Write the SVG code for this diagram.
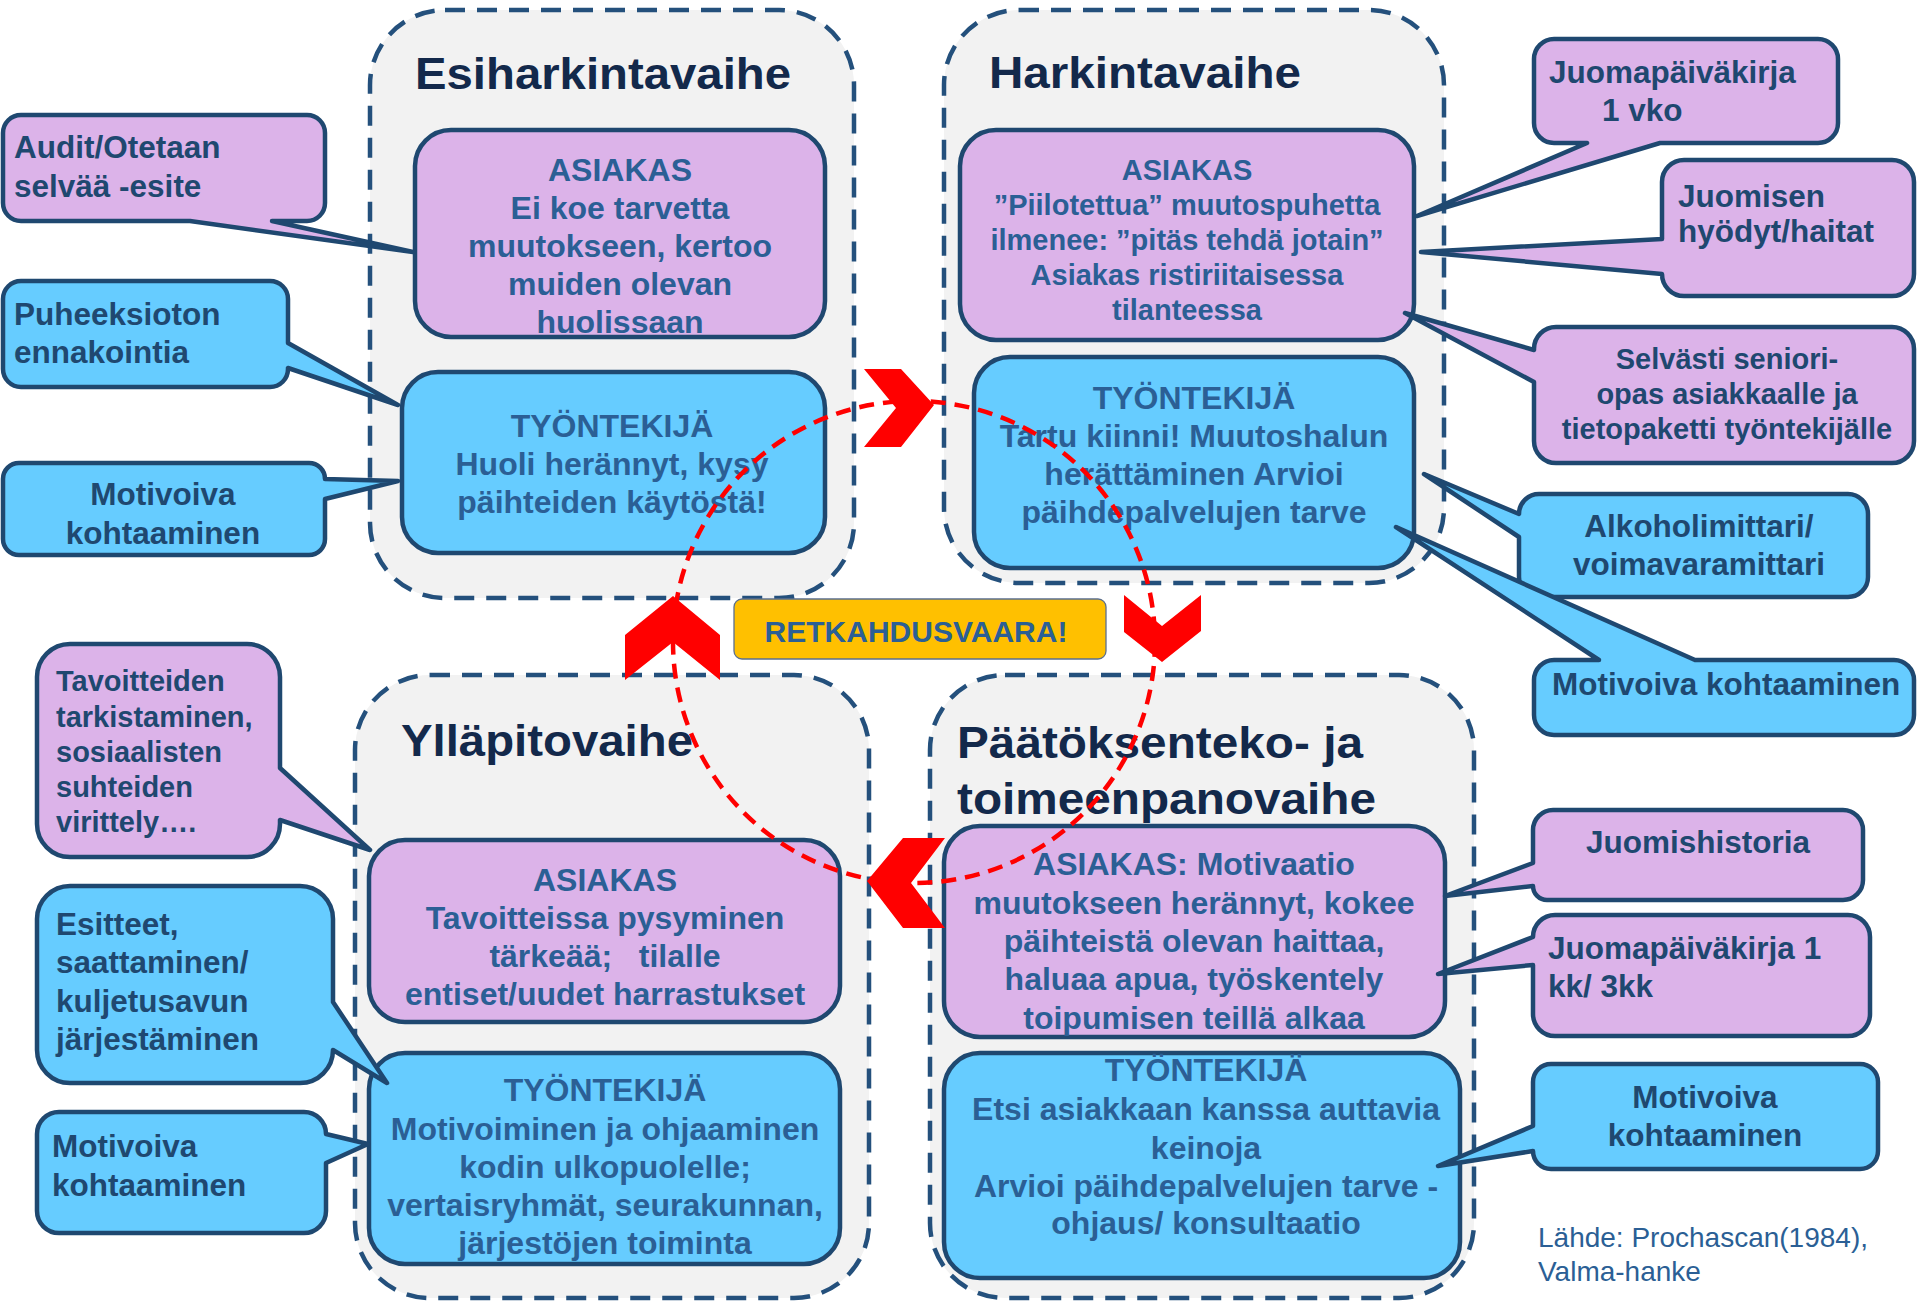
<svg xmlns="http://www.w3.org/2000/svg" width="1917" height="1304" viewBox="0 0 1917 1304">
<style>
.cont{fill:#F2F2F2;stroke:#24507C;stroke-width:4.5;stroke-dasharray:20 12}
.pink{fill:#DCB3E9;stroke:#1F4870;stroke-width:4.5;stroke-linejoin:round}
.blue{fill:#66CCFF;stroke:#1F4870;stroke-width:4.5;stroke-linejoin:round}
text{font-family:"Liberation Sans",Arial,sans-serif;font-weight:bold}
.bx{font-size:32px;fill:#2B5F95;text-anchor:middle}
.bx29{font-size:29px;fill:#2B5F95;text-anchor:middle}
.co{font-size:31.5px;fill:#1F4870}
.co29{font-size:29px;fill:#1F4870}
.mid{text-anchor:middle}
.title{font-size:45px;fill:#13294B}
.chev{fill:#FF0000}
.circ{fill:none;stroke:#FF0000;stroke-width:4.5;stroke-dasharray:15 9}
</style>
<rect width="1917" height="1304" fill="#FFFFFF"/>

<g id="stage-esiharkinta">
<rect class="cont" x="370" y="10" width="484" height="588" rx="75"/>
<text class="title" x="415" y="89" textLength="376" lengthAdjust="spacingAndGlyphs">Esiharkintavaihe</text>
</g>
<g id="stage-harkinta">
<rect class="cont" x="944" y="10" width="500" height="573" rx="75"/>
<text class="title" x="989" y="88" textLength="312" lengthAdjust="spacingAndGlyphs">Harkintavaihe</text>
</g>
<g id="stage-yllapito">
<rect class="cont" x="355" y="675" width="514" height="623" rx="75"/>
<text class="title" x="401" y="756" textLength="292" lengthAdjust="spacingAndGlyphs">Ylläpitovaihe</text>
</g>
<g id="stage-paatoksenteko">
<rect class="cont" x="930" y="675" width="544" height="623" rx="75"/>
<text class="title" x="957" y="758" textLength="406" lengthAdjust="spacingAndGlyphs">Päätöksenteko- ja</text>
<text class="title" x="957" y="814" textLength="419" lengthAdjust="spacingAndGlyphs">toimeenpanovaihe</text>
</g>

<g id="esi-asiakas">
<rect class="pink" x="415" y="130" width="410" height="207" rx="36"/>
<text class="bx"><tspan x="620" y="181">ASIAKAS</tspan><tspan x="620" y="219">Ei koe tarvetta</tspan><tspan x="620" y="257">muutokseen, kertoo</tspan><tspan x="620" y="295">muiden olevan</tspan><tspan x="620" y="333">huolissaan</tspan></text>
</g>
<g id="esi-tyontekija">
<rect class="blue" x="402" y="372" width="423" height="181" rx="36"/>
<text class="bx"><tspan x="612" y="437">TYÖNTEKIJÄ</tspan><tspan x="612" y="475">Huoli herännyt, kysy</tspan><tspan x="612" y="513">päihteiden käytöstä!</tspan></text>
</g>
<g id="hark-asiakas">
<rect class="pink" x="960" y="130" width="454" height="210" rx="36"/>
<text class="bx29"><tspan x="1187" y="180">ASIAKAS</tspan><tspan x="1187" y="215">”Piilotettua” muutospuhetta</tspan><tspan x="1187" y="250">ilmenee: ”pitäs tehdä jotain”</tspan><tspan x="1187" y="285">Asiakas ristiriitaisessa</tspan><tspan x="1187" y="320">tilanteessa</tspan></text>
</g>
<g id="hark-tyontekija">
<rect class="blue" x="974" y="357" width="440" height="211" rx="36"/>
<text class="bx"><tspan x="1194" y="409">TYÖNTEKIJÄ</tspan><tspan x="1194" y="447">Tartu kiinni! Muutoshalun</tspan><tspan x="1194" y="485">herättäminen Arvioi</tspan><tspan x="1194" y="523">päihdepalvelujen tarve</tspan></text>
</g>
<g id="yll-asiakas">
<rect class="pink" x="369" y="840" width="471" height="182" rx="36"/>
<text class="bx" xml:space="preserve"><tspan x="605" y="891">ASIAKAS</tspan><tspan x="605" y="929">Tavoitteissa pysyminen</tspan><tspan x="605" y="967">tärkeää;   tilalle</tspan><tspan x="605" y="1005">entiset/uudet harrastukset</tspan></text>
</g>
<g id="yll-tyontekija">
<rect class="blue" x="369" y="1053" width="471" height="211" rx="36"/>
<text class="bx"><tspan x="605" y="1101">TYÖNTEKIJÄ</tspan><tspan x="605" y="1140">Motivoiminen ja ohjaaminen</tspan><tspan x="605" y="1178">kodin ulkopuolelle;</tspan><tspan x="605" y="1216">vertaisryhmät, seurakunnan,</tspan><tspan x="605" y="1254">järjestöjen toiminta</tspan></text>
</g>
<g id="paat-asiakas">
<rect class="pink" x="944" y="826" width="501" height="211" rx="36"/>
<text class="bx"><tspan x="1194" y="875">ASIAKAS: Motivaatio</tspan><tspan x="1194" y="914">muutokseen herännyt, kokee</tspan><tspan x="1194" y="952">päihteistä olevan haittaa,</tspan><tspan x="1194" y="990">haluaa apua, työskentely</tspan><tspan x="1194" y="1029">toipumisen teillä alkaa</tspan></text>
</g>
<g id="paat-tyontekija">
<rect class="blue" x="944" y="1053" width="516" height="225" rx="36"/>
<text class="bx"><tspan x="1206" y="1081">TYÖNTEKIJÄ</tspan><tspan x="1206" y="1120">Etsi asiakkaan kanssa auttavia</tspan><tspan x="1206" y="1159">keinoja</tspan><tspan x="1206" y="1197">Arvioi päihdepalvelujen tarve -</tspan><tspan x="1206" y="1234">ohjaus/ konsultaatio</tspan></text>
</g>

<g id="callout-audit">
<path class="pink" d="M21,115 H307 A18 18 0 0 1 325,133 V203 A18 18 0 0 1 307,221 H272 L413,252 L190,221 H21 A18 18 0 0 1 3,203 V133 A18 18 0 0 1 21,115 Z"/>
<text class="co"><tspan x="14" y="158">Audit/Otetaan</tspan><tspan x="14" y="197">selvää -esite</tspan></text>
</g>
<g id="callout-puheeksioton">
<path class="blue" d="M21,281 H270 A18 18 0 0 1 288,299 V343 L398,405 L288,368 V369 A18 18 0 0 1 270,387 H21 A18 18 0 0 1 3,369 V299 A18 18 0 0 1 21,281 Z"/>
<text class="co"><tspan x="14" y="325">Puheeksioton</tspan><tspan x="14" y="363">ennakointia</tspan></text>
</g>
<g id="callout-motivoiva-1">
<path class="blue" d="M19,463 H309 A16 16 0 0 1 325,479 L398,481 L325,499 V539 A16 16 0 0 1 309,555 H19 A16 16 0 0 1 3,539 V479 A16 16 0 0 1 19,463 Z"/>
<text class="co mid"><tspan x="163" y="505">Motivoiva</tspan><tspan x="163" y="544">kohtaaminen</tspan></text>
</g>
<g id="callout-tavoitteiden">
<path class="pink" d="M70,644 H247 A33 33 0 0 1 280,677 V768 L370,850 L280,820 V824 A33 33 0 0 1 247,857 H70 A33 33 0 0 1 37,824 V677 A33 33 0 0 1 70,644 Z"/>
<text class="co29"><tspan x="56" y="691">Tavoitteiden</tspan><tspan x="56" y="727">tarkistaminen,</tspan><tspan x="56" y="762">sosiaalisten</tspan><tspan x="56" y="797">suhteiden</tspan><tspan x="56" y="832">virittely….</tspan></text>
</g>
<g id="callout-esitteet">
<path class="blue" d="M70,886 H300 A33 33 0 0 1 333,919 V1002 L387,1083 L333,1050 A33 33 0 0 1 300,1083 H70 A33 33 0 0 1 37,1050 V919 A33 33 0 0 1 70,886 Z"/>
<text class="co"><tspan x="56" y="935">Esitteet,</tspan><tspan x="56" y="973">saattaminen/</tspan><tspan x="56" y="1012">kuljetusavun</tspan><tspan x="56" y="1050">järjestäminen</tspan></text>
</g>
<g id="callout-motivoiva-2">
<path class="blue" d="M59,1112 H304 A22 22 0 0 1 326,1134 L368,1144 L326,1163 V1211 A22 22 0 0 1 304,1233 H59 A22 22 0 0 1 37,1211 V1134 A22 22 0 0 1 59,1112 Z"/>
<text class="co"><tspan x="52" y="1157">Motivoiva</tspan><tspan x="52" y="1196">kohtaaminen</tspan></text>
</g>
<g id="callout-juomapaivakirja-1vko">
<path class="pink" d="M1554,39 H1818 A20 20 0 0 1 1838,59 V123 A20 20 0 0 1 1818,143 H1660 L1417,216 L1587,143 H1554 A20 20 0 0 1 1534,123 V59 A20 20 0 0 1 1554,39 Z"/>
<text class="co"><tspan x="1549" y="83">Juomapäiväkirja</tspan><tspan x="1602" y="121">1 vko</tspan></text>
</g>
<g id="callout-juomisen">
<path class="pink" d="M1684,160 H1892 A22 22 0 0 1 1914,182 V274 A22 22 0 0 1 1892,296 H1684 A22 22 0 0 1 1662,274 L1421,252 L1662,239 V182 A22 22 0 0 1 1684,160 Z"/>
<text class="co"><tspan x="1678" y="207">Juomisen</tspan><tspan x="1678" y="242">hyödyt/haitat</tspan></text>
</g>
<g id="callout-seniori">
<path class="pink" d="M1556,327 H1892 A22 22 0 0 1 1914,349 V441 A22 22 0 0 1 1892,463 H1556 A22 22 0 0 1 1534,441 V382 L1405,313 L1534,350 V349 A22 22 0 0 1 1556,327 Z"/>
<text class="co29 mid"><tspan x="1727" y="369">Selvästi seniori-</tspan><tspan x="1727" y="404">opas asiakkaalle ja</tspan><tspan x="1727" y="439">tietopaketti työntekijälle</tspan></text>
</g>
<g id="callout-alkoholimittari">
<path class="blue" d="M1539,494 H1848 A20 20 0 0 1 1868,514 V577 A20 20 0 0 1 1848,597 H1539 A20 20 0 0 1 1519,577 V537 L1424,474 L1519,514 A20 20 0 0 1 1539,494 Z"/>
<text class="co mid"><tspan x="1699" y="537">Alkoholimittari/</tspan><tspan x="1699" y="575">voimavaramittari</tspan></text>
</g>
<g id="callout-motivoiva-3">
<path class="blue" d="M1554,660 H1599 L1396,527 L1695,660 H1894 A20 20 0 0 1 1914,680 V715 A20 20 0 0 1 1894,735 H1554 A20 20 0 0 1 1534,715 V680 A20 20 0 0 1 1554,660 Z"/>
<text class="co"><tspan x="1552" y="695">Motivoiva kohtaaminen</tspan></text>
</g>
<g id="callout-juomishistoria">
<path class="pink" d="M1553,810 H1843 A20 20 0 0 1 1863,830 V880 A20 20 0 0 1 1843,900 H1547 A14 14 0 0 1 1533,886 L1445,896 L1533,863 V830 A20 20 0 0 1 1553,810 Z"/>
<text class="co mid"><tspan x="1698" y="853">Juomishistoria</tspan></text>
</g>
<g id="callout-juomapaivakirja-kk">
<path class="pink" d="M1555,915 H1848 A22 22 0 0 1 1870,937 V1014 A22 22 0 0 1 1848,1036 H1555 A22 22 0 0 1 1533,1014 V965 L1438,974 L1533,937 A22 22 0 0 1 1555,915 Z"/>
<text class="co"><tspan x="1548" y="959">Juomapäiväkirja 1</tspan><tspan x="1548" y="997">kk/ 3kk</tspan></text>
</g>
<g id="callout-motivoiva-4">
<path class="blue" d="M1551,1064 H1860 A18 18 0 0 1 1878,1082 V1151 A18 18 0 0 1 1860,1169 H1551 A18 18 0 0 1 1533,1151 L1438,1166 L1533,1126 V1082 A18 18 0 0 1 1551,1064 Z"/>
<text class="co mid"><tspan x="1705" y="1108">Motivoiva</tspan><tspan x="1705" y="1146">kohtaaminen</tspan></text>
</g>

<g id="connectors">
<circle class="circ" cx="914" cy="642" r="241"/>
<polygon class="chev" points="864,369 901,369 934,405 901,447 864,447 896,408"/>
<polygon class="chev" points="1124,595 1162,626 1201,595 1201,631 1162,662 1124,632"/>
<polygon class="chev" points="945,838 903,838 867,881 903,928 945,928 911,883"/>
<polygon class="chev" points="625,680 625,635 673,596 720,635 720,680 673,642"/>
</g>

<g id="retkahdusvaara">
<rect x="734" y="599" width="372" height="60" rx="8" fill="#FFC000" stroke="#5B6F8F" stroke-width="1.3"/>
<text x="916" y="642" class="mid" style="font-size:30px;fill:#2B5F95">RETKAHDUSVAARA!</text>
</g>

<g id="source">
<text style="font-size:28px;font-weight:normal;fill:#2B5F95"><tspan x="1538" y="1247">Lähde: Prochascan(1984),</tspan><tspan x="1538" y="1281">Valma-hanke</tspan></text>
</g>
</svg>
